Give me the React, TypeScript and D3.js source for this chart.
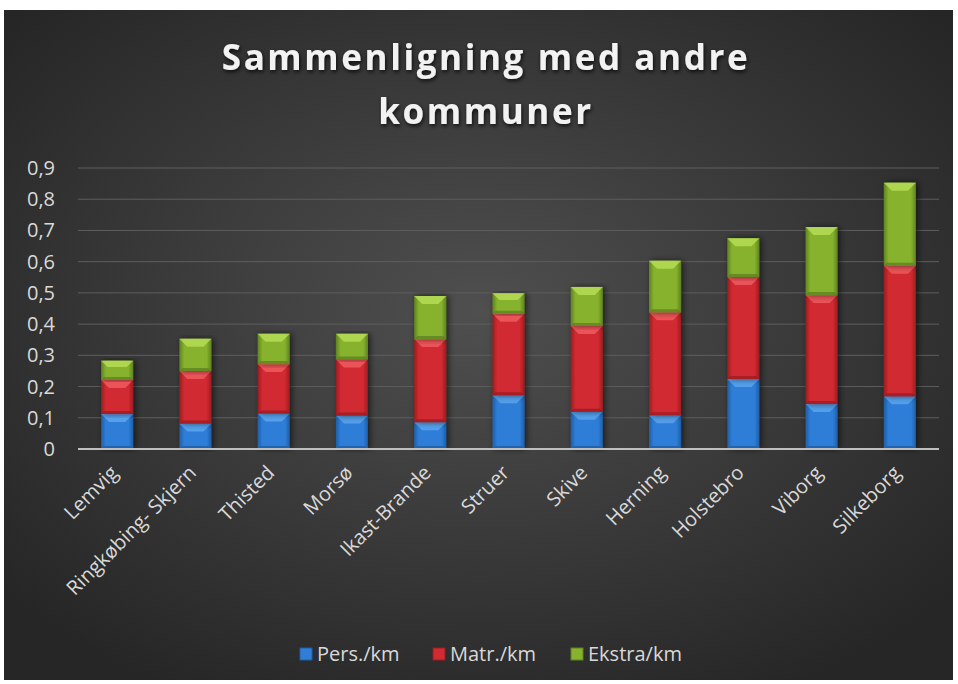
import React from "react";
import * as d3 from "d3";

const categories = ["Lemvig", "Ringkøbing- Skjern", "Thisted", "Morsø", "Ikast-Brande", "Struer", "Skive", "Herning", "Holstebro", "Viborg", "Silkeborg"];
const persKm = [0.112, 0.082, 0.114, 0.107, 0.086, 0.172, 0.119, 0.108, 0.224, 0.144, 0.169];
const matrKm = [0.109, 0.168, 0.158, 0.180, 0.266, 0.261, 0.275, 0.330, 0.327, 0.349, 0.418];
const ekstraKm = [0.062, 0.103, 0.097, 0.082, 0.138, 0.066, 0.125, 0.165, 0.124, 0.218, 0.266];
const seriesNames = ["Pers./km", "Matr./km", "Ekstra/km"];
const yTicks = [0, 0.1, 0.2, 0.3, 0.4, 0.5, 0.6, 0.7, 0.8, 0.9];
const title = ["Sammenligning med andre", "kommuner"];

const W = 958, H = 684;
const colors = [
  { base: "#2f7ed8", light: "#5aa6f0", dark: "#1d5ea8" },
  { base: "#d12a30", light: "#ee5a5e", dark: "#9c1c20" },
  { base: "#86b22e", light: "#b5dc55", dark: "#5f8220" },
];

export default function App() {
  const margin = { left: 78, right: 939, top: 168, bottom: 449 };
  const x = d3.scaleBand<string>().domain(categories).range([margin.left, margin.right]).paddingInner(0.59).paddingOuter(0.295);
  const y = d3.scaleLinear().domain([0, 0.9]).range([margin.bottom, margin.top]);
  const rows = categories.map((c, i) => ({ c, v: [persKm[i], matrKm[i], ekstraKm[i]] }));
  const stack = d3.stack<any>().keys([0, 1, 2] as any).value((d: any, k: any) => d.v[k]);
  const stacked = stack(rows);
  const bw = x.bandwidth();
  const font = "'Open Sans', 'DejaVu Sans', sans-serif";
  const textColor = "#d9d9d9";

  return (
    <svg width={W} height={H} style={{ position: "absolute", left: 0, top: 0, display: "block" }}>
      <defs>
        <radialGradient id="bg" cx="50%" cy="45%" r="65%">
          <stop offset="0%" stopColor="#4f4f4f" />
          <stop offset="100%" stopColor="#262626" />
        </radialGradient>
        {colors.map((c, i) => (
          <linearGradient key={i} id={`g${i}`} x1="0" x2="1" y1="0" y2="0">
            <stop offset="0%" stopColor={c.dark} />
            <stop offset="15%" stopColor={c.base} />
            <stop offset="50%" stopColor={c.base} />
            <stop offset="85%" stopColor={c.base} />
            <stop offset="100%" stopColor={c.dark} />
          </linearGradient>
        ))}
        <filter id="ts" x="-10%" y="-10%" width="120%" height="140%">
          <feDropShadow dx="1" dy="2" stdDeviation="2" floodColor="#000" floodOpacity="0.8" />
        </filter>
        <filter id="bs" x="-30%" y="-10%" width="160%" height="120%">
          <feDropShadow dx="2" dy="0" stdDeviation="3" floodColor="#000" floodOpacity="0.6" />
        </filter>
      </defs>
      <rect x={0} y={0} width={W} height={H} fill="#ffffff" />
      <rect x={4} y={10} width={949} height={670} fill="url(#bg)" />

      {title.map((t, i) => (
        <text key={i} x={486} y={70 + i * 54} textAnchor="middle" fill="#f2f2f2" fontFamily={font} fontWeight="bold" fontSize={35} letterSpacing={2.6} filter="url(#ts)">{t}</text>
      ))}

      {yTicks.map((t) => (
        <g key={t}>
          {t > 0 && <line x1={margin.left} x2={margin.right} y1={y(t)} y2={y(t)} stroke="#5e5e5e" strokeWidth={1} />}
          <text x={55} y={y(t)} dy="0.35em" textAnchor="end" fill={textColor} fontFamily={font} fontSize={20}>{String(t).replace(".", ",")}</text>
        </g>
      ))}

      {stacked.map((s, si) => (
        <g key={si}>
          {s.map((d, i) => {
            const x0 = x(categories[i])!;
            const yt = y(d[1]), yb = y(d[0]);
            const h = yb - yt;
            const c = colors[si];
            const bev = Math.min(8, h / 3);
            return (
              <g key={i}>
                <rect x={x0} y={yt} width={bw} height={h} fill={`url(#g${si})`} filter="url(#bs)" />
                <polygon points={`${x0},${yt} ${x0 + bw},${yt} ${x0 + bw - bev},${yt + bev} ${x0 + bev},${yt + bev}`} fill={c.light} opacity={0.85} />
                <polygon points={`${x0},${yb} ${x0 + bw},${yb} ${x0 + bw - 3},${yb - 3} ${x0 + 3},${yb - 3}`} fill={c.dark} opacity={0.8} />
              </g>
            );
          })}
        </g>
      ))}

      <line x1={margin.left} x2={margin.right} y1={y(0)} y2={y(0)} stroke="#bfbfbf" strokeWidth={2} />

      {categories.map((c) => {
        const cx = x(c)! + bw / 2 + 2;
        const cy = 474;
        return (
          <text key={c} x={cx} y={cy} textAnchor="end" fill={textColor} fontFamily={font} fontSize={20} transform={`rotate(-45 ${cx} ${cy})`}>{c}</text>
        );
      })}

      {seriesNames.map((n, i) => {
        const xs = [300, 433, 571][i];
        return (
          <g key={n}>
            <rect x={xs} y={648} width={12} height={12} fill={colors[i].base} stroke={colors[i].dark} strokeWidth={1} />
            <text x={xs + 17} y={654} dy="0.35em" fill={textColor} fontFamily={font} fontSize={20}>{n}</text>
          </g>
        );
      })}
    </svg>
  );
}
